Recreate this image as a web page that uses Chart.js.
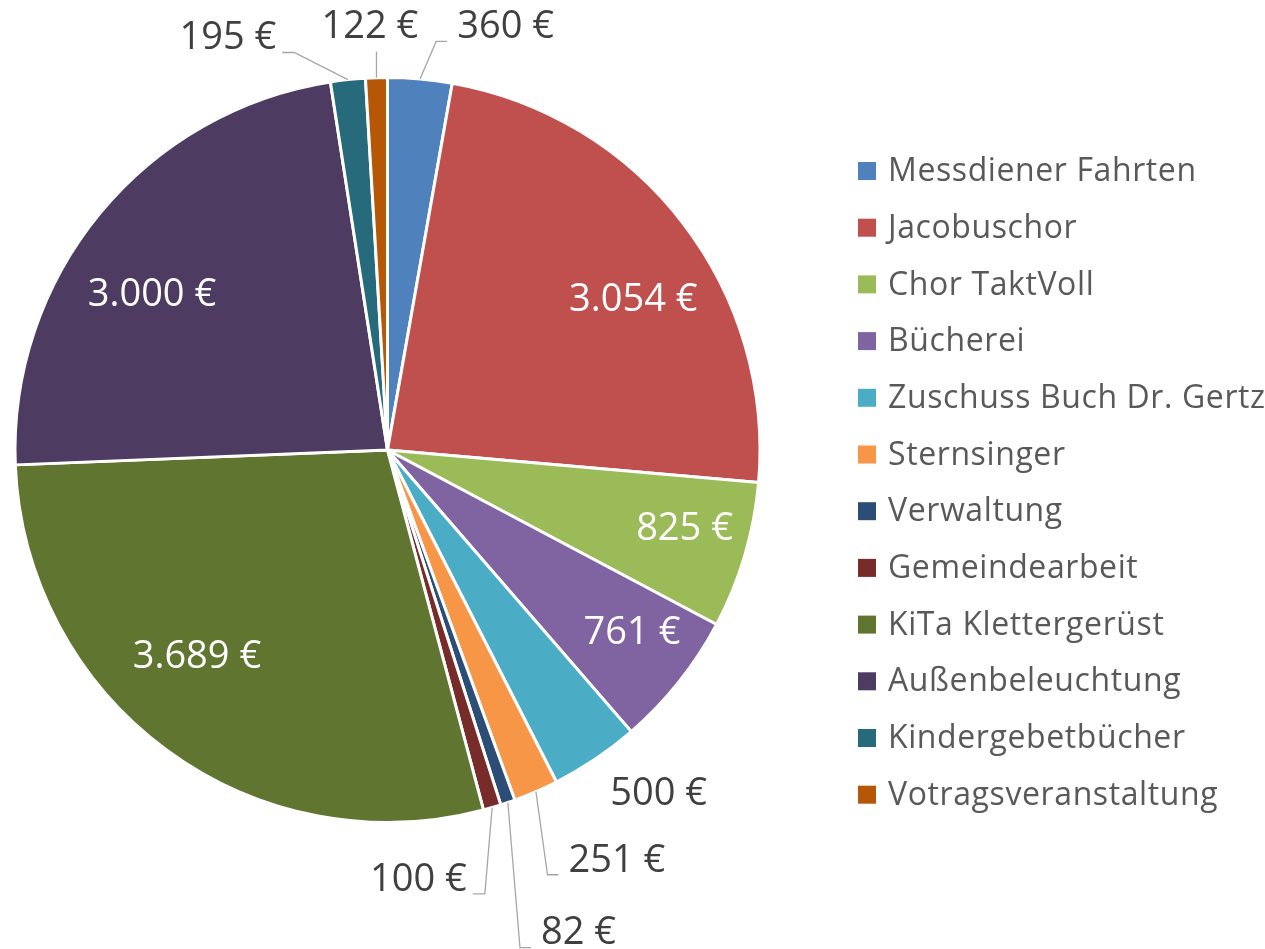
<!DOCTYPE html>
<html>
<head>
<meta charset="utf-8">
<script src="https://cdn.jsdelivr.net/npm/chart.js@4.4.1/dist/chart.umd.min.js"></script>
<style>
  html, body { margin: 0; padding: 0; background: #ffffff; }
  #wrap { width: 1265px; height: 949px; position: relative; }
</style>
</head>
<body>
<div id="wrap"><canvas id="donationsPie"></canvas></div>
<script>
const categories = [
  'Messdiener Fahrten',
  'Jacobuschor',
  'Chor TaktVoll',
  'Bücherei',
  'Zuschuss Buch Dr. Gertz',
  'Sternsinger',
  'Verwaltung',
  'Gemeindearbeit',
  'KiTa Klettergerüst',
  'Außenbeleuchtung',
  'Kindergebetbücher',
  'Votragsveranstaltung'
]
const amounts = [360, 3054, 825, 761, 500, 251, 82, 100, 3689, 3000, 195, 122]
const sliceColors = [
  '#4F81BD', '#C0504D', '#9BBB59', '#8064A2', '#4BACC6', '#F79646',
  '#2C4D75', '#772C2A', '#5F7530', '#4D3B62', '#276A7C', '#B65708'
]

// where each value label sits: fraction of the radius, and a nudge off the slice middle (deg)
const labelRadius = [1.178, 0.773, 0.825, 0.82, 1.176, 1.263, 1.396, 1.157, 0.756, 0.757, 1.185, 1.135]
const labelAngleShift = [10.6, 6.1, -1.6, -1.7, -4.3, -5.7, -2.7, 12.2, 6.2, -6.1, -15.1, -0.7]

const labelFont = '38px "Open Sans", sans-serif'
const legendFont = '32px "Open Sans", sans-serif'

function formatEuro(v) {
  return String(v).replace(/\B(?=(\d{3})+(?!\d))/g, '.') + ' €'
}

// value labels, with leader lines for the ones pushed outside
const valueLabels = {
  id: 'valueLabels',
  afterDatasetsDraw(chart) {
    const ctx = chart.ctx
    const meta = chart.getDatasetMeta(0)
    ctx.save()
    ctx.font = labelFont
    ctx.textAlign = 'center'
    ctx.textBaseline = 'middle'
    meta.data.forEach((arc, i) => {
      const p = arc.getProps(['x', 'y', 'startAngle', 'endAngle', 'outerRadius'], true)
      const mid = (p.startAngle + p.endAngle) / 2
      const a = mid + (labelAngleShift[i] * Math.PI) / 180
      const R = p.outerRadius
      const cx = p.x + Math.cos(a) * R * labelRadius[i]
      const cy = p.y + Math.sin(a) * R * labelRadius[i]
      const text = formatEuro(amounts[i])
      const w = ctx.measureText(text).width / 2
      const h = 14

      if (labelRadius[i] < 1) {
        ctx.fillStyle = '#ffffff'
        ctx.fillText(text, cx, cy)
        return
      }

      const ex = p.x + Math.cos(mid) * R
      const ey = p.y + Math.sin(mid) * R
      // distance from slice edge to the text box
      const nx = Math.max(cx - w, Math.min(ex, cx + w))
      const ny = Math.max(cy - h, Math.min(ey, cy + h))
      const gap = Math.hypot(ex - nx, ey - ny)

      if (gap > 30) {
        ctx.strokeStyle = '#A6A6A6'
        ctx.lineWidth = 1.3
        ctx.beginPath()
        ctx.moveTo(ex, ey)
        if (Math.abs(cx - ex) < w) {
          ctx.lineTo(ex, cy + (ey > cy ? h + 10 : -h - 10))
        } else if (cx > ex) {
          const tx = cx - w - 10
          ctx.lineTo(tx - 11, cy + h)
          ctx.lineTo(tx, cy + h)
        } else {
          const tx = cx + w + 6
          ctx.lineTo(tx + 12, cy + h)
          ctx.lineTo(tx, cy + h)
        }
        ctx.stroke()
      }
      ctx.fillStyle = '#404040'
      ctx.fillText(text, cx, cy)
    })
    ctx.restore()
  }
}

// legend on the right, one row per category
const sideLegend = {
  id: 'sideLegend',
  afterDraw(chart) {
    const ctx = chart.ctx
    const left = chart.chartArea.right + 96
    const top = 171
    const step = 56.7
    ctx.save()
    ctx.font = legendFont
    ctx.letterSpacing = '0.6px'
    ctx.textBaseline = 'middle'
    ctx.textAlign = 'left'
    categories.forEach((name, i) => {
      const y = top + i * step
      ctx.fillStyle = sliceColors[i]
      ctx.fillRect(left, y - 9, 18, 18)
      ctx.fillStyle = '#595959'
      ctx.fillText(name, left + 30, y + 1)
    })
    ctx.restore()
  }
}

const ctx = document.getElementById('donationsPie').getContext('2d')
const donationsChart = new Chart(ctx, {
  type: 'pie',
  data: {
    labels: categories,
    datasets: [
      {
        data: amounts,
        backgroundColor: sliceColors,
        borderColor: '#ffffff',
        borderWidth: 3
      }
    ]
  },
  options: {
    responsive: true,
    maintainAspectRatio: false,
    animation: false,
    events: [],
    layout: {
      padding: { left: 13, right: 503, top: 76, bottom: 125 }
    },
    plugins: {
      legend: { display: false },
      tooltip: { enabled: false }
    }
  },
  plugins: [valueLabels, sideLegend]
})
</script>
</body>
</html>
